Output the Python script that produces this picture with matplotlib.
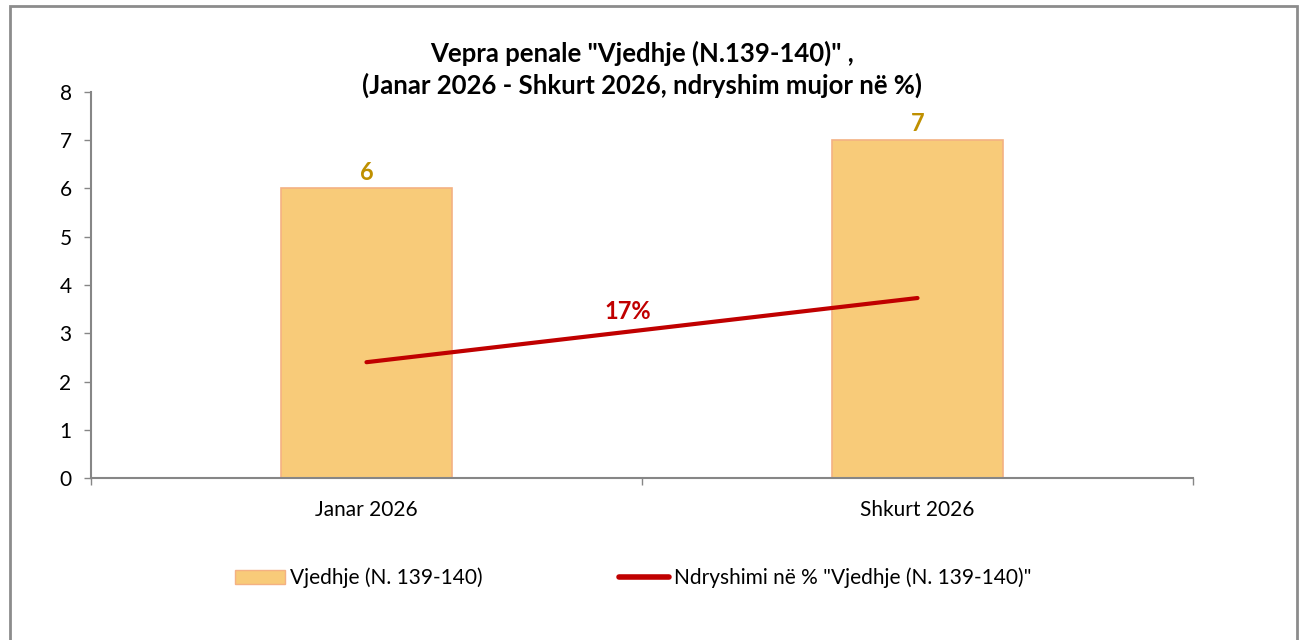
import matplotlib.pyplot as plt
from matplotlib.patches import Rectangle
from matplotlib.lines import Line2D

# data
months = ["Janar 2026", "Shkurt 2026"]
counts = [6, 7]
change_line = [2.4, 3.73]   # line drawn on hidden secondary scale, read in primary units
change_label = "17%"
bar_name = "Vjedhje (N. 139-140)"
line_name = 'Ndryshimi në % "Vjedhje (N. 139-140)"'
title = 'Vepra penale "Vjedhje (N.139-140)" ,\n(Janar 2026 - Shkurt 2026, ndryshim mujor në %)'

BAR_COLOR = "#F8CB79"
BAR_EDGE = "#F4B183"
LINE_COLOR = "#C00000"
LABEL_COLOR = "#BF9000"
AXIS_COLOR = "#868686"

plt.rcParams['font.family'] = ['Lato', 'DejaVu Sans']

fig = plt.figure(figsize=(13.03, 6.4), dpi=100)
ax = fig.add_axes([0.0698, 0.2531, 0.8458, 0.6032])

x = list(range(len(months)))
ax.bar(x, counts, width=0.31, color=BAR_COLOR, edgecolor=BAR_EDGE, linewidth=1.2, zorder=2)
for xi, v in zip(x, counts):
    ax.text(xi, v + 0.1, str(v), ha='center', va='bottom', fontsize=17,
            fontweight='bold', color=LABEL_COLOR)

ax.plot(x, change_line, color=LINE_COLOR, linewidth=3, solid_capstyle='round', zorder=3)
ax.text(0.475, (change_line[0] + change_line[1]) / 2 + 0.15, change_label, ha='center', va='bottom',
        fontsize=17, fontweight='bold', color=LINE_COLOR)

ax.set_xlim(-0.5, 1.5)
ax.set_ylim(0, 8)
ax.set_yticks(range(0, 9))
ax.set_xticks(x)
ax.set_xticklabels(months)
ax.set_xticks([-0.5, 0.5, 1.5], minor=True)
ax.tick_params(axis='x', which='major', length=0, pad=16, labelsize=15)
ax.tick_params(axis='x', which='minor', length=5, color=AXIS_COLOR, width=1)
ax.tick_params(axis='y', length=5, color=AXIS_COLOR, width=1, labelsize=15, pad=9)
for s in ['top', 'right']:
    ax.spines[s].set_visible(False)
for s in ['left', 'bottom']:
    ax.spines[s].set_color(AXIS_COLOR)
    ax.spines[s].set_linewidth(1.5)

fig.text(0.4927, 0.892, title, ha='center', va='center', fontsize=18.5, fontweight='bold',
         linespacing=1.3)

handles = [Rectangle((0, 0), 1, 1, facecolor=BAR_COLOR, edgecolor=BAR_EDGE),
           Line2D([0], [0], color=LINE_COLOR, linewidth=4, solid_capstyle='round')]
fig.legend(handles, [bar_name, line_name], loc='center', bbox_to_anchor=(0.486, 0.097),
           ncol=2, frameon=False, fontsize=15, handlelength=2.4, handletextpad=0.25,
           columnspacing=6.5)

# outer chart border
fig.patches.append(Rectangle((10 / 1303, -0.05), 1287 / 1303, 1.0406, transform=fig.transFigure,
                             fill=False, edgecolor='#8C8C8C', linewidth=2))

fig.savefig("out.png", dpi=100)
